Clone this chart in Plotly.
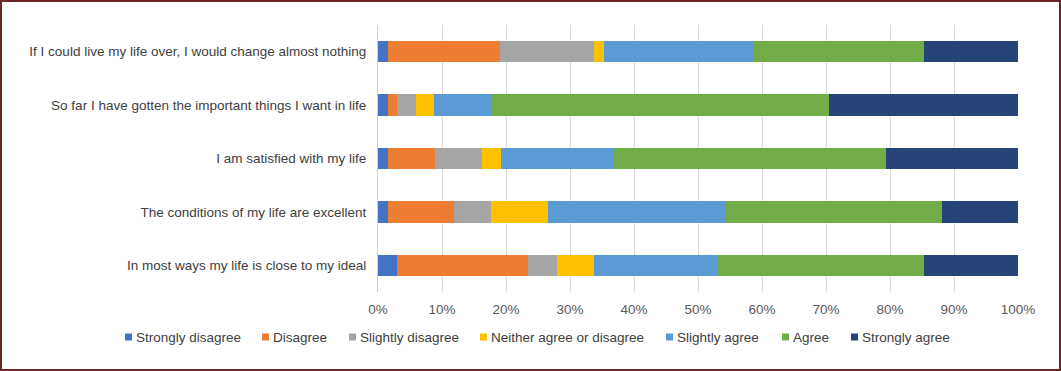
import plotly.graph_objects as go

categories = [
    "If I could live my life over, I would change almost nothing",
    "So far I have gotten the important things I want in life",
    "I am satisfied with my life",
    "The conditions of my life are excellent",
    "In most ways my life is close to my ideal",
]

series_names = [
    "Strongly disagree", "Disagree", "Slightly disagree",
    "Neither agree or disagree", "Slightly agree", "Agree", "Strongly agree",
]

# percentages per category (top to bottom)
strongly_disagree = [1.5, 1.5, 1.5, 1.5, 2.9]
disagree = [17.6, 1.5, 7.4, 10.3, 20.6]
slightly_disagree = [14.7, 2.9, 7.4, 5.9, 4.4]
neither = [1.5, 2.9, 2.9, 8.8, 5.9]
slightly_agree = [23.5, 8.8, 17.6, 27.9, 19.1]
agree = [26.5, 52.9, 42.6, 33.8, 32.4]
strongly_agree = [14.7, 29.5, 20.6, 11.8, 14.7]

series_values = [strongly_disagree, disagree, slightly_disagree, neither,
                 slightly_agree, agree, strongly_agree]
colors = ["#4472C4", "#ED7D31", "#A5A5A5", "#FFC000", "#5B9BD5", "#70AD47", "#264478"]

tick_vals = [0, 10, 20, 30, 40, 50, 60, 70, 80, 90, 100]
tick_text = [f"{v}%" for v in tick_vals]

FONT = "Liberation Sans, Arial, sans-serif"
FS = 13.5

fig = go.Figure()
for name, vals, col in zip(series_names, series_values, colors):
    fig.add_trace(go.Bar(
        y=categories, x=vals, name=name, orientation="h",
        marker=dict(color=col, line=dict(width=0)),
        showlegend=False,
    ))

L, R, T, B = 378, 43, 25, 79
W, H = 1061, 371
pw = W - L - R
ph = H - T - B


def px_x(p):
    return (p - L) / pw


def px_y(p):
    return (H - B - p) / ph


fig.update_layout(
    barmode="stack",
    bargap=0.6,
    width=W, height=H,
    margin=dict(l=L, r=R, t=T, b=B, autoexpand=False),
    paper_bgcolor="white",
    plot_bgcolor="white",
    font=dict(family=FONT, size=FS, color="#404040"),
    xaxis=dict(
        range=[0, 100], tickvals=tick_vals, ticktext=tick_text,
        showgrid=True, gridcolor="#D9D9D9", gridwidth=1,
        zeroline=False, showline=False, ticks="",
        tickfont=dict(size=FS, color="#595959"),
        ticklabelstandoff=7,
        fixedrange=True, automargin=False,
    ),
    yaxis=dict(
        autorange="reversed", showgrid=False, ticks="",
        showline=True, linecolor="#D0D0D0", linewidth=1,
        tickfont=dict(size=FS, color="#404040"),
        ticklabelstandoff=8, automargin=False,
    ),
    showlegend=False,
)

# legend drawn as small squares + labels (layout positions in pixels)
legend_x = [125, 262, 349, 480, 666, 782, 851]
legend_y = 337
for name, col, lx in zip(series_names, colors, legend_x):
    fig.add_shape(
        type="rect", xref="paper", yref="paper",
        x0=px_x(lx), x1=px_x(lx + 7), y0=px_y(legend_y + 3.5), y1=px_y(legend_y - 3.5),
        line=dict(width=0), fillcolor=col,
    )
    fig.add_annotation(
        xref="paper", yref="paper", x=px_x(lx + 9), y=px_y(legend_y),
        xanchor="left", yanchor="middle", text=name, showarrow=False,
        font=dict(family=FONT, size=FS, color="#404040"),
    )

# outer frame
fig.add_shape(
    type="rect", xref="paper", yref="paper",
    x0=px_x(1), x1=px_x(W - 1), y0=px_y(H - 1), y1=px_y(1),
    line=dict(color="#6E2525", width=2), fillcolor="rgba(0,0,0,0)", layer="above",
)

fig.write_html(
    "out.html",
    config={"displayModeBar": False},
    post_script="document.body.style.margin='0px';document.body.style.overflow='hidden';",
)
